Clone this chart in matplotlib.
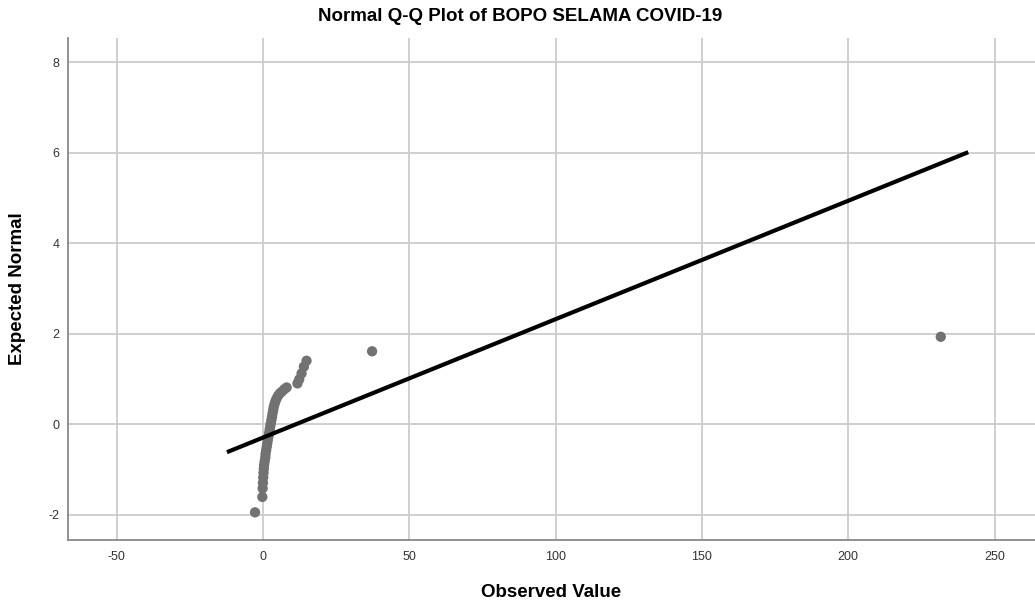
import numpy as np
import matplotlib
matplotlib.use('Agg')
import matplotlib.pyplot as plt

observed = [-2.7, -0.2, -0.1, 0.0, 0.1, 0.2, 0.3, 0.4, 0.6, 0.8, 0.9, 1.1,
            1.3, 1.5, 1.7, 1.9, 2.1, 2.3, 2.5, 2.7, 2.9, 3.1, 3.3, 3.5, 3.7,
            4.0, 4.3, 4.7, 5.2, 5.8, 6.5, 7.3, 8.1, 11.8, 12.4, 13.2, 14.0,
            14.9, 37.3, 231.6]
expected = [-1.95, -1.61, -1.42, -1.30, -1.18, -1.08, -0.99, -0.90, -0.82,
            -0.74, -0.66, -0.58, -0.50, -0.42, -0.34, -0.27, -0.20, -0.12,
            -0.05, 0.02, 0.09, 0.16, 0.24, 0.31, 0.38, 0.45, 0.51, 0.57, 0.63,
            0.68, 0.72, 0.77, 0.81, 0.90, 0.99, 1.12, 1.27, 1.40, 1.61, 1.93]

# reference line
line_x = [-12.3, 241.0]
line_mean = 11.4
line_sd = 38.2

xticks = [-50, 0, 50, 100, 150, 200, 250]
yticks = [-2, 0, 2, 4, 6, 8]

plt.rcParams['font.family'] = ['Liberation Sans', 'DejaVu Sans']
plt.rcParams['axes.unicode_minus'] = False

fig = plt.figure(figsize=(10.35, 6.06), dpi=100)
ax = fig.add_axes([0.0657, 0.109, 0.9343, 0.828])

ax.grid(True, color='#cccccc', linewidth=1.3, zorder=0)
ax.set_axisbelow(True)

lx = np.array(line_x)
ax.plot(lx, (lx - line_mean) / line_sd, color='black', linewidth=3,
        solid_capstyle='butt', zorder=3)
ax.scatter(observed, expected, s=55, color='#727272', edgecolors='none', zorder=2)

ax.set_xlim(-66.6, 263.8)
ax.set_ylim(-2.56, 8.53)
ax.set_xticks(xticks)
ax.set_yticks(yticks)
ax.tick_params(length=0, labelsize=9, colors='#333333')
ax.tick_params(axis='y', pad=6)
ax.tick_params(axis='x', pad=8)

for s in ['top', 'right']:
    ax.spines[s].set_visible(False)
for s in ['left', 'bottom']:
    ax.spines[s].set_color('#888888')
    ax.spines[s].set_linewidth(1.3)

ax.set_xlabel('Observed Value', fontsize=13.5, fontweight='bold')
ax.set_ylabel('Expected Normal', fontsize=13.5, fontweight='bold')
ax.xaxis.set_label_coords(0.5, -0.088)
ax.yaxis.set_label_coords(-0.0434, 0.5)
fig.suptitle('Normal Q-Q Plot of BOPO SELAMA COVID-19', fontsize=13.5,
             fontweight='bold', x=0.503, y=0.987)

plt.savefig('out.png', dpi=100)
